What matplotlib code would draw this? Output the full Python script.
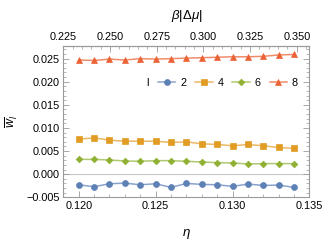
import matplotlib
matplotlib.use("Agg")
import matplotlib.pyplot as plt
from matplotlib.ticker import MultipleLocator, FixedLocator
import numpy as np

plt.rcParams["font.family"] = ["Liberation Sans", "DejaVu Sans"]
plt.rcParams["mathtext.fontset"] = "custom"
plt.rcParams["mathtext.rm"] = "Liberation Sans"
plt.rcParams["mathtext.it"] = "Liberation Sans:italic"

# data
eta = [0.120, 0.121, 0.122, 0.123, 0.124, 0.125, 0.126, 0.127,
       0.128, 0.129, 0.130, 0.131, 0.132, 0.133, 0.134]
w_2 = [-0.00229, -0.00271, -0.00207, -0.00193, -0.00229, -0.00207, -0.00286, -0.00200,
       -0.00221, -0.00229, -0.00264, -0.00214, -0.00243, -0.00236, -0.00286]
w_4 = [0.00757, 0.00786, 0.00736, 0.00714, 0.00714, 0.00714, 0.00686, 0.00700,
       0.00657, 0.00643, 0.00614, 0.00643, 0.00614, 0.00579, 0.00557]
w_6 = [0.00321, 0.00321, 0.00307, 0.00286, 0.00279, 0.00293, 0.00293, 0.00279,
       0.00264, 0.00250, 0.00243, 0.00221, 0.00229, 0.00229, 0.00229]
w_8 = [0.0247, 0.0246, 0.0249, 0.0247, 0.0250, 0.0249, 0.0250, 0.0251,
       0.0252, 0.0253, 0.0254, 0.0254, 0.0255, 0.0258, 0.0259]
l_labels = ["2", "4", "6", "8"]
beta_ticks = [0.225, 0.250, 0.275, 0.300, 0.325, 0.350]

# top axis: beta|dmu| as linear function of eta
BETA0, ETA0, SLOPE = 0.2332, 0.120, 8.24


def eta_to_beta(x):
    return BETA0 + (np.asarray(x) - ETA0) * SLOPE


def beta_to_eta(b):
    return ETA0 + (np.asarray(b) - BETA0) / SLOPE


series = [
    (w_2, "o", "#5E81B5", "#8aa3cc", 4.3),
    (w_4, "s", "#E19C24", "#ebb865", 4.8),
    (w_6, "D", "#8FB032", "#b0c970", 3.4),
    (w_8, "^", "#EB6235", "#f08c6a", 5.0),
]

fig = plt.figure(figsize=(3.32, 2.42), dpi=100)
ax = fig.add_axes([0.1907, 0.1847, 0.7415, 0.6265])

frame_col = "#9a9a9a"
tick_fs = 7.8
ax.axhline(0, color="#c8c8c8", lw=0.8, zorder=0)

for (vals, mk, col, lcol, ms), lab in zip(series, l_labels):
    ax.plot(eta, vals, marker=mk, color=lcol, lw=1.1, ms=ms,
            markerfacecolor=col, markeredgecolor=col, markeredgewidth=0.5,
            label=lab)

ax.set_xlim(0.119, 0.135)
ax.set_ylim(-0.005, 0.0278)

ax.xaxis.set_major_locator(MultipleLocator(0.005))
ax.xaxis.set_minor_locator(MultipleLocator(0.001))
ax.yaxis.set_major_locator(MultipleLocator(0.005))
ax.yaxis.set_minor_locator(MultipleLocator(0.001))
ax.xaxis.set_major_formatter(lambda v, p: f"{v:.3f}")
ax.yaxis.set_major_formatter(lambda v, p: f"{v:.3f}".replace("-", "\u2212"))

ax.tick_params(which="both", direction="in", colors=frame_col, labelcolor="black",
               labelsize=tick_fs, top=False, right=True)
ax.tick_params(which="major", length=4, width=0.6)
ax.tick_params(which="minor", length=2, width=0.5)
ax.tick_params(axis="x", pad=3)
ax.tick_params(axis="y", pad=2.5)
for sp in ax.spines.values():
    sp.set_color(frame_col)
    sp.set_linewidth(0.8)

top = ax.secondary_xaxis("top", functions=(eta_to_beta, beta_to_eta))
top.xaxis.set_major_locator(FixedLocator(beta_ticks))
top.xaxis.set_minor_locator(MultipleLocator(0.005))
top.xaxis.set_major_formatter(lambda v, p: f"{v:.3f}")
top.tick_params(which="both", direction="in", colors=frame_col, labelcolor="black",
                labelsize=tick_fs, pad=3)
top.tick_params(which="major", length=4, width=0.6)
top.tick_params(which="minor", length=2, width=0.5)
top.spines["top"].set_color(frame_col)
top.set_xlabel(r"$\beta|\Delta\mu|$", fontsize=9.5, labelpad=9)

ax.set_xlabel(r"$\eta$", fontsize=9.5, labelpad=11)
ax.set_ylabel(r"$\overline{w}_l$", fontsize=9, labelpad=4.5)

ax.text(0.34, 0.756, "l", transform=ax.transAxes, fontsize=tick_fs,
        va="center", ha="center")
ax.legend(loc="center left", bbox_to_anchor=(0.385, 0.756), ncol=4,
          frameon=False, fontsize=tick_fs, handlelength=1.6, handletextpad=0.45,
          columnspacing=0.83, borderpad=0, borderaxespad=0)

fig.savefig("out.png", dpi=100)
